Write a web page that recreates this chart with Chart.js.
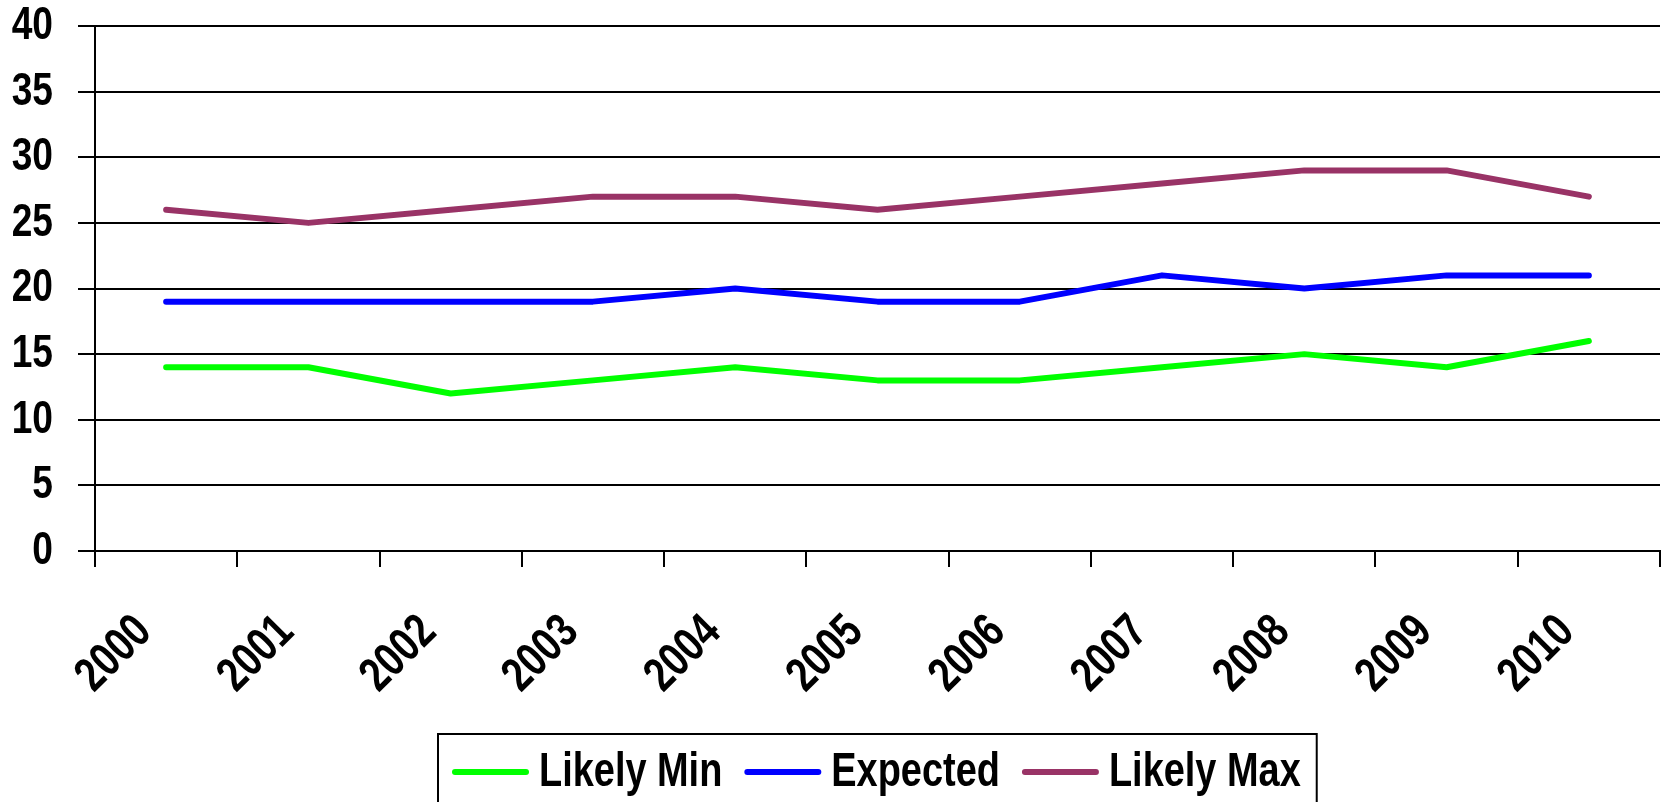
<!DOCTYPE html>
<html>
<head>
<meta charset="utf-8">
<script src="https://cdn.jsdelivr.net/npm/chart.js@4.4.1/dist/chart.umd.min.js"></script>
<style>
  html, body { margin: 0; padding: 0; background: #fff; overflow: hidden; }
  #wrap { width: 1665px; height: 802px; }
</style>
</head>
<body>
<div id="wrap"><canvas id="chart" width="1665" height="802"></canvas></div>
<script>
// Years along the x axis
const years = ['2000','2001','2002','2003','2004','2005','2006','2007','2008','2009','2010'];

// Series values
const likelyMin = [14, 14, 12, 13, 14, 13, 13, 14, 15, 14, 16];
const expected  = [19, 19, 19, 19, 20, 19, 19, 21, 20, 21, 21];
const likelyMax = [26, 25, 26, 27, 27, 26, 27, 28, 29, 29, 27];

// Y axis tick values
const yTicks = [0, 5, 10, 15, 20, 25, 30, 35, 40];

const seriesNames  = ['Likely Min', 'Expected', 'Likely Max'];
const seriesColors = ['#00FF00', '#0000FF', '#993366'];

const FONT_FAMILY = "'Liberation Sans Narrow', 'Arial Narrow', 'Liberation Sans', Arial, sans-serif";
// Horizontal squeeze giving the bold sans face a narrow look
const TEXT_SQUEEZE = 0.79;

const canvas = document.getElementById('chart');
const ctx2d = canvas.getContext('2d');
const nativeFillText = ctx2d.fillText;
ctx2d.fillText = function (text, x, y, maxWidth) {
  const narrow = this.measureText(text).width * TEXT_SQUEEZE;
  const w = maxWidth === undefined ? narrow : Math.min(maxWidth, narrow);
  return nativeFillText.call(this, text, x, y, w);
};

// Boxed legend drawn underneath the axis labels
const boxedLegend = {
  id: 'boxedLegend',
  afterDraw(chart) {
    const ctx = chart.ctx;
    const area = chart.chartArea;
    ctx.save();
    ctx.font = 'bold 48px ' + FONT_FAMILY;
    const sampleW = 77, sampleGap = 10, itemGap = 22, padL = 14, padR = 16;
    const items = chart.data.datasets.map(ds => ({
      label: ds.label, color: ds.borderColor,
      w: ctx.measureText(ds.label).width * TEXT_SQUEEZE
    }));
    let total = 0;
    items.forEach((it, i) => { total += sampleW + sampleGap + it.w + (i ? itemGap : 0); });
    const boxW = total + padL + padR;
    const cx = (area.left + area.right) / 2;
    const boxLeft = Math.round(cx - boxW / 2);
    const boxTop = 734;
    const midY = 772;
    ctx.strokeStyle = '#000';
    ctx.lineWidth = 2;
    ctx.strokeRect(boxLeft, boxTop, boxW, 120);
    let x = boxLeft + padL;
    items.forEach((it, i) => {
      if (i) x += itemGap;
      ctx.strokeStyle = it.color;
      ctx.lineWidth = 6;
      ctx.lineCap = 'round';
      ctx.beginPath();
      ctx.moveTo(x + 3, midY);
      ctx.lineTo(x + sampleW - 3, midY);
      ctx.stroke();
      x += sampleW + sampleGap;
      ctx.fillStyle = '#000';
      ctx.textAlign = 'left';
      ctx.textBaseline = 'middle';
      ctx.fillText(it.label, x, midY + 1);
      x += it.w;
    });
    ctx.restore();
  }
};

const makeDataset = (i, values) => ({
  label: seriesNames[i],
  data: values,
  borderColor: seriesColors[i],
  backgroundColor: seriesColors[i],
  borderWidth: 6,
  borderCapStyle: 'round',
  borderJoinStyle: 'round',
  pointRadius: 0,
  pointHoverRadius: 0,
  tension: 0,
  fill: false
});

new Chart(canvas, {
  type: 'line',
  data: {
    labels: years,
    datasets: [
      makeDataset(0, likelyMin),
      makeDataset(1, expected),
      makeDataset(2, likelyMax)
    ]
  },
  options: {
    responsive: false,
    animation: false,
    devicePixelRatio: 1,
    layout: { padding: { top: 0, left: 0, right: 5, bottom: 0 } },
    plugins: {
      legend: { display: false },
      tooltip: { enabled: false }
    },
    scales: {
      x: {
        offset: true,
        grid: {
          offset: true,
          drawOnChartArea: false,
          drawTicks: true,
          tickLength: 16,
          color: '#000',
          lineWidth: 2
        },
        border: { display: true, color: '#000', width: 2 },
        ticks: {
          maxRotation: 45,
          minRotation: 45,
          autoSkip: false,
          padding: 37,
          labelOffset: -22,
          color: '#000',
          font: { family: FONT_FAMILY, size: 48, weight: 'bold' }
        },
        afterFit(scale) {
          scale.height = 251;
          scale.paddingLeft = 0;
          scale.paddingRight = 0;
        }
      },
      y: {
        min: 0,
        max: 40,
        afterBuildTicks(scale) { scale.ticks = yTicks.map(v => ({ value: v })); },
        grid: {
          color: '#000',
          lineWidth: 2,
          drawTicks: true,
          tickLength: 17
        },
        border: { display: true, color: '#000', width: 2 },
        ticks: {
          padding: 25,
          color: '#000',
          font: { family: FONT_FAMILY, size: 47, weight: 'bold' }
        },
        afterFit(scale) {
          scale.width = 95;
          scale.paddingTop = 26;
          scale.paddingBottom = 0;
        }
      }
    }
  },
  plugins: [boxedLegend]
});
</script>
</body>
</html>
